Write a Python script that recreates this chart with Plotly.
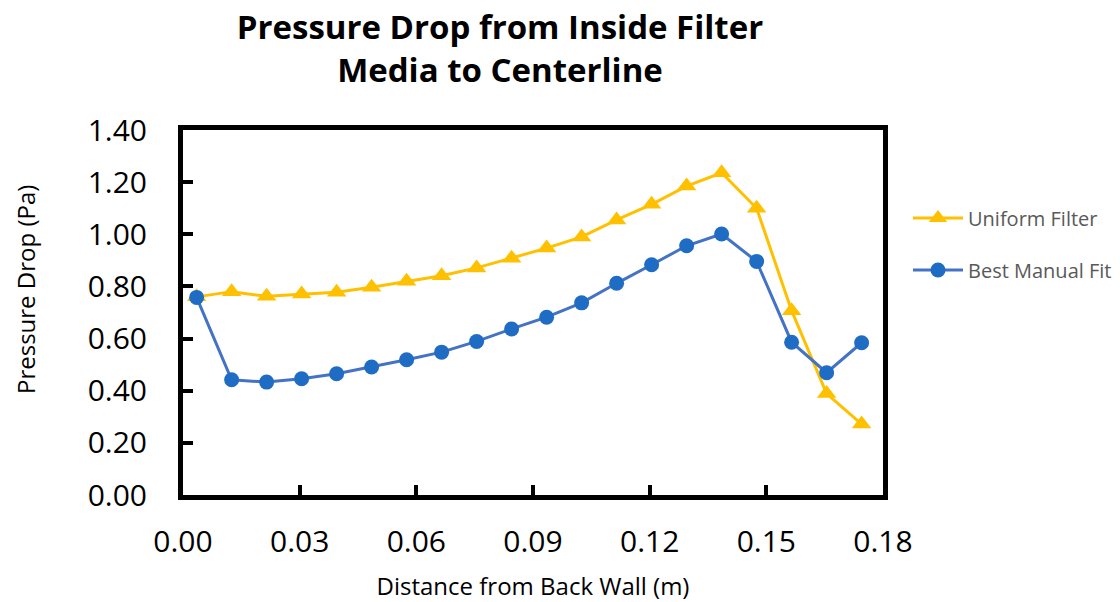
import plotly.graph_objects as go

x_dist = [0.0035, 0.0125, 0.0215, 0.0305, 0.0395, 0.0485, 0.0575, 0.0665, 0.0755, 0.0845,
          0.0935, 0.1025, 0.1115, 0.1205, 0.1295, 0.1385, 0.1475, 0.1565, 0.1655, 0.1745]
uniform_filter = [0.760, 0.780, 0.762, 0.771, 0.778, 0.797, 0.820, 0.841, 0.871, 0.908,
                  0.947, 0.990, 1.055, 1.115, 1.185, 1.236, 1.100, 0.707, 0.389, 0.272]
best_manual_fit = [0.758, 0.442, 0.433, 0.446, 0.465, 0.491, 0.519, 0.548, 0.589, 0.637,
                   0.682, 0.737, 0.812, 0.883, 0.956, 1.001, 0.896, 0.586, 0.469, 0.584]
x_ticks = [0.00, 0.03, 0.06, 0.09, 0.12, 0.15, 0.18]
y_ticks = [0.00, 0.20, 0.40, 0.60, 0.80, 1.00, 1.20, 1.40]

FONT = "'Open Sans', Lato, sans-serif"
W, H = 1120, 602
L, R, T, B = 183, 237, 130, 107
PW, PH = W - L - R, H - T - B

fig = go.Figure()
fig.add_trace(go.Scatter(
    x=x_dist, y=uniform_filter, name="Uniform Filter", mode="lines+markers",
    line=dict(color="#FFC000", width=3),
    marker=dict(symbol="triangle-up", size=17, color="#FFC000"),
    legendgroup="a",
))
fig.add_trace(go.Scatter(
    x=x_dist, y=best_manual_fit, name="Best Manual Fit", mode="lines+markers",
    line=dict(color="#4472C4", width=3),
    marker=dict(symbol="circle", size=15, color="#1F6CC4"),
    legendgroup="b",
))

fig.update_layout(
    width=W, height=H,
    margin=dict(l=L, r=R, t=T, b=B, autoexpand=False),
    paper_bgcolor="white", plot_bgcolor="white",
    font=dict(family=FONT, color="black"),
    title=dict(
        text="<b>Pressure Drop from Inside Filter<br>Media to Centerline</b>",
        x=500 / W, xanchor="center", xref="container",
        y=1 - 39 / H, yanchor="middle", yref="container",
        font=dict(size=33, family=FONT, color="black"),
    ),
    showlegend=True,
    legend=dict(
        x=908 / W, xanchor="left", xref="container",
        y=1 - 244 / H, yanchor="middle", yref="container",
        font=dict(size=20, color="#595959", family=FONT),
        tracegroupgap=23, itemwidth=50, bgcolor="rgba(0,0,0,0)",
    ),
    annotations=[dict(
        text="Pressure Drop (Pa)", textangle=-90,
        xref="paper", yref="paper", x=(25 - L) / PW, y=(H - B - 290) / PH,
        xanchor="center", yanchor="middle", showarrow=False,
        font=dict(size=24, family=FONT, color="black"),
    )],
)
fig.update_xaxes(
    range=[0, 0.18], tickvals=x_ticks, ticktext=[f"{v:.2f}" for v in x_ticks],
    showline=True, linecolor="black", linewidth=5, mirror=True,
    ticks="inside", ticklen=10, tickwidth=4, tickcolor="black",
    showgrid=False, zeroline=False, ticklabelstandoff=16,
    tickfont=dict(size=30, family=FONT, color="black"),
    title=dict(text="Distance from Back Wall (m)", font=dict(size=24, family=FONT, color="black"), standoff=20),
)
fig.update_yaxes(
    range=[0, 1.4], tickvals=y_ticks, ticktext=[f"{v:.2f}" for v in y_ticks],
    showline=True, linecolor="black", linewidth=5, mirror=True,
    ticks="inside", ticklen=10, tickwidth=4, tickcolor="black",
    showgrid=False, zeroline=False, ticklabelstandoff=25,
    tickfont=dict(size=30, family=FONT, color="black"),
)

fig.write_html("out.html", config={"displayModeBar": False},
               post_script="document.body.style.margin='0px';")
